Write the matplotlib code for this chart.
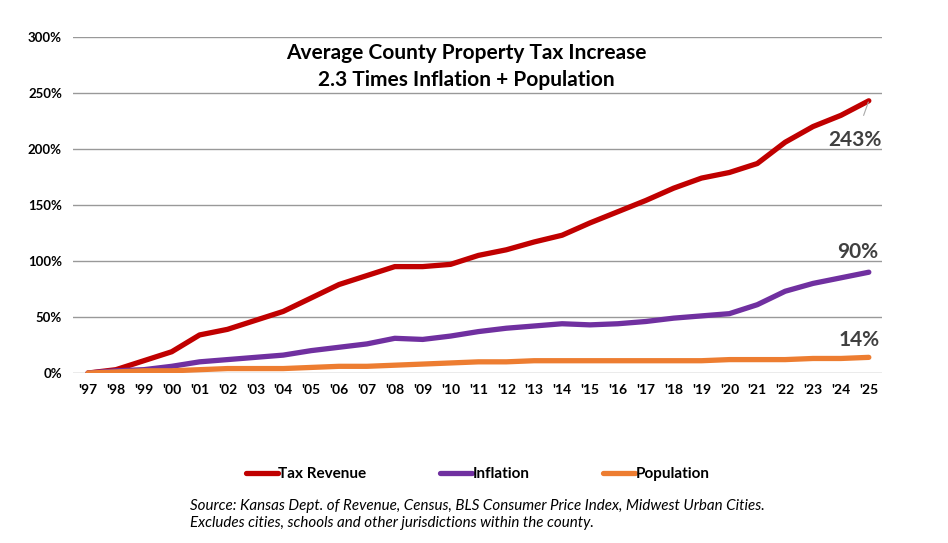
import matplotlib.pyplot as plt

years = ["'97", "'98", "'99", "'00", "'01", "'02", "'03", "'04", "'05", "'06",
         "'07", "'08", "'09", "'10", "'11", "'12", "'13", "'14", "'15", "'16",
         "'17", "'18", "'19", "'20", "'21", "'22", "'23", "'24", "'25"]
tax_revenue = [0, 3, 11, 19, 34, 39, 47, 55, 67, 79, 87, 95, 95, 97, 105, 110,
               117, 123, 134, 144, 154, 165, 174, 179, 187, 206, 220, 230, 243]
inflation = [0, 2, 3, 6, 10, 12, 14, 16, 20, 23, 26, 31, 30, 33, 37, 40,
             42, 44, 43, 44, 46, 49, 51, 53, 61, 73, 80, 85, 90]
population = [0, 1, 2, 2, 3, 4, 4, 4, 5, 6, 6, 7, 8, 9, 10, 10,
              11, 11, 11, 11, 11, 11, 11, 12, 12, 12, 13, 13, 14]

plt.rcParams['font.family'] = ['Lato', 'DejaVu Sans']

fig = plt.figure(figsize=(9.48, 5.43), dpi=100)
ax = fig.add_axes([0.077, 0.313, 0.853, 0.619])

x = range(len(years))
ax.plot(x, tax_revenue, color="#C00000", lw=3.8, label="Tax Revenue", solid_capstyle="round")
ax.plot(x, inflation, color="#7030A0", lw=3.8, label="Inflation", solid_capstyle="round")
ax.plot(x, population, color="#ED7D31", lw=3.8, label="Population", solid_capstyle="round")

ax.set_xlim(-0.54, 28.46)
ax.set_ylim(0, 300)
ax.set_yticks(range(0, 301, 50))
ax.set_yticklabels([f"{v}%" for v in range(0, 301, 50)], fontsize=9.5, fontweight="bold")
ax.set_xticks(list(x))
ax.set_xticklabels(years, fontsize=10, fontweight="bold")
ax.tick_params(length=0, pad=8)
ax.grid(axis="y", color="#999999", lw=1)
ax.set_axisbelow(True)
for s in ax.spines.values():
    s.set_visible(False)

ax.text(13.55, 295, "Average County Property Tax Increase\n2.3 Times Inflation + Population",
        ha="center", va="top", fontsize=15, fontweight="bold", linespacing=1.45)

grey = "#404040"
ax.annotate(f"{tax_revenue[-1]}%", xy=(28, tax_revenue[-1]), xytext=(27.5, 208),
            ha="center", va="center", fontsize=15, fontweight="bold", color=grey,
            arrowprops=dict(arrowstyle="-", color="#aaaaaa", lw=0.8, shrinkA=9, shrinkB=1))
ax.text(27.6, 108, f"{inflation[-1]}%", ha="center", va="center",
        fontsize=15, fontweight="bold", color=grey)
ax.text(27.67, 29.5, f"{population[-1]}%", ha="center", va="center",
        fontsize=15, fontweight="bold", color=grey)

fig.legend(loc="center", bbox_to_anchor=(0.504, 0.127), ncol=3, frameon=False,
           prop={"weight": "bold", "size": 11}, handlelength=2.1, handletextpad=0.05,
           columnspacing=4.8)

fig.text(0.2, 0.053, "Source: Kansas Dept. of Revenue, Census, BLS Consumer Price Index, Midwest Urban Cities.\n"
         "Excludes cities, schools and other jurisdictions within the county.",
         ha="left", va="center", fontsize=10.9, style="italic", linespacing=1.3)

fig.savefig("out.png", dpi=100)
